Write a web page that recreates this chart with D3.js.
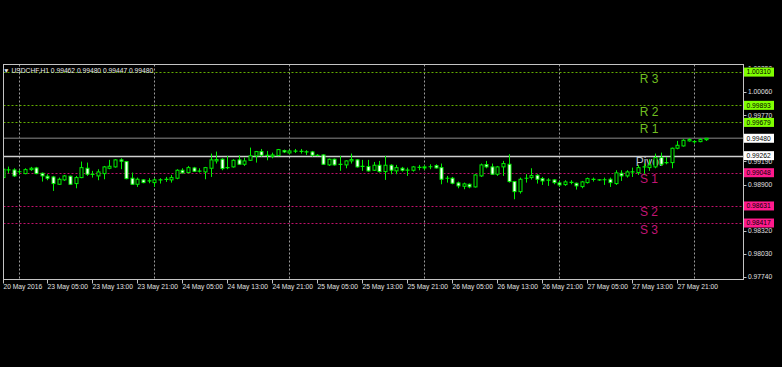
<!DOCTYPE html>
<html><head><meta charset="utf-8">
<script src="https://cdn.jsdelivr.net/npm/d3@7"></script>
<style>html,body{margin:0;padding:0;background:#000;overflow:hidden}</style>
</head><body><svg id="c" width="782" height="367"></svg>
<script>
const symbolTitle = "USDCHF,H1  0.99462 0.99480 0.99447 0.99480";
const openP = [.98987,.99079,.99083,.99058,.99037,.99087,.99108,.99041,.99004,.98995,
.98903,.98958,.99004,.98912,.98987,.99104,.99025,.99008,.99037,.99104,
.99121,.99209,.99188,.98979,.98903,.98958,.98941,.98924,.98954,.98958,
.98958,.98979,.99079,.99050,.99108,.99066,.99058,.99104,.99196,.99217,
.99108,.99121,.99209,.99154,.99204,.99259,.99313,.99263,.99255,.99263,
.99326,.99296,.99317,.99313,.99313,.99309,.99267,.99271,.99146,.99217,
.99154,.99146,.99196,.99209,.99125,.99125,.99079,.99142,.99062,.99142,
.99071,.99104,.99079,.99079,.99112,.99108,.99117,.99137,.99112,.98974,
.98979,.98920,.98878,.98903,.98870,.99008,.99150,.99121,.99029,.99121,
.99154,.98937,.98811,.98974,.98987,.99016,.98974,.98954,.98958,.98920,
.98899,.98924,.98916,.98874,.98924,.98962,.98958,.98958,.98966,.98912,
.99041,.99008,.99054,.99050,.99117,.99112,.99121,.99238,.99179,.99175,
.99355,.99384,.99447,.99438,.99438,.99462];
const highP = [.99121,.99125,.99104,.99087,.99104,.99121,.99121,.99050,.99029,.99008,
.98987,.99020,.99012,.99008,.99188,.99175,.99071,.99092,.99133,.99209,
.99217,.99229,.99196,.99050,.98987,.98966,.98979,.98979,.98979,.98995,
.99020,.99092,.99104,.99133,.99121,.99104,.99121,.99288,.99313,.99229,
.99259,.99217,.99267,.99238,.99363,.99321,.99346,.99321,.99300,.99346,
.99338,.99338,.99346,.99346,.99330,.99321,.99280,.99280,.99225,.99225,
.99259,.99204,.99288,.99217,.99209,.99209,.99183,.99196,.99259,.99154,
.99146,.99121,.99112,.99133,.99146,.99142,.99154,.99154,.99163,.99008,
.98995,.98937,.98924,.98912,.99029,.99163,.99196,.99163,.99133,.99196,
.99280,.98945,.98987,.99029,.99104,.99029,.98995,.98979,.98966,.98945,
.98954,.98954,.98924,.98945,.98987,.98987,.98966,.98987,.98987,.99079,
.99079,.99079,.99112,.99146,.99163,.99217,.99288,.99300,.99246,.99363,
.99447,.99468,.99480,.99455,.99480,.99480];
const lowP = [.98966,.99041,.98995,.99029,.99029,.99071,.99029,.98937,.98954,.98820,
.98895,.98945,.98895,.98853,.98979,.99008,.98987,.98954,.98966,.99092,
.99112,.99092,.98966,.98895,.98870,.98916,.98916,.98870,.98912,.98933,
.98924,.98966,.99037,.99041,.99058,.99050,.98966,.98995,.99163,.99079,
.99092,.99112,.99146,.99133,.99196,.99175,.99250,.99204,.99229,.99255,
.99296,.99280,.99296,.99288,.99271,.99250,.99255,.99146,.99133,.99137,
.99071,.99104,.99163,.99112,.99071,.99062,.99071,.99050,.98958,.99029,
.99029,.99062,.99008,.99062,.99079,.99083,.99092,.99100,.98903,.98924,
.98903,.98853,.98841,.98853,.98862,.98995,.99104,.99020,.99008,.99008,
.98924,.98715,.98786,.98924,.98962,.98912,.98895,.98883,.98903,.98870,
.98883,.98903,.98837,.98853,.98912,.98937,.98945,.98895,.98870,.98895,
.98945,.98987,.98995,.99020,.99029,.99071,.99104,.99133,.99154,.99104,
.99342,.99376,.99438,.99413,.99430,.99447];
const closeP = [.99092,.99087,.99008,.99062,.99087,.99104,.99037,.99008,.98979,.98912,
.98966,.99008,.98903,.98987,.99112,.99029,.99029,.99058,.99121,.99129,
.99209,.99192,.98974,.98903,.98966,.98924,.98949,.98958,.98962,.98970,
.98987,.99079,.99046,.99112,.99066,.99071,.99112,.99209,.99213,.99100,
.99117,.99204,.99154,.99196,.99259,.99313,.99267,.99267,.99271,.99338,
.99309,.99321,.99321,.99317,.99305,.99267,.99263,.99154,.99217,.99146,
.99150,.99196,.99213,.99121,.99129,.99071,.99142,.99062,.99142,.99079,
.99112,.99079,.99083,.99121,.99117,.99121,.99129,.99108,.98966,.98983,
.98916,.98883,.98908,.98870,.99020,.99146,.99121,.99029,.99121,.99163,
.98937,.98811,.98966,.98983,.99012,.98966,.98945,.98958,.98924,.98895,
.98933,.98929,.98883,.98933,.98974,.98966,.98960,.98962,.98924,.99046,
.99008,.99058,.99062,.99112,.99125,.99146,.99238,.99154,.99171,.99355,
.99392,.99455,.99464,.99440,.99464,.99480];
const timeLabels = ["20 May 2016","23 May 05:00","23 May 13:00","23 May 21:00","24 May 05:00","24 May 13:00","24 May 21:00","25 May 05:00","25 May 13:00","25 May 21:00","26 May 05:00","26 May 13:00","26 May 21:00","27 May 05:00","27 May 13:00","27 May 21:00"];
const barsPerLabel = 8;
const dayStartBars = [3, 27, 51, 75, 99, 123];
// visible price-scale labels (0.99480 and 0.98610 are covered by level boxes in the reference)
const priceTicks = [1.00350, 1.00060, 0.99770, 0.99190, 0.98900, 0.98320, 0.98030, 0.97740];
const priceTickMarks = [1.00350, 1.00060, 0.99770, 0.99480, 0.99190, 0.98900, 0.98610, 0.98320, 0.98030, 0.97740];
const levelNames = ["R 3","R 2","R 1","Pivot","S 1","S 2","S 3"];
const levelValues = [1.00310, 0.99893, 0.99679, 0.99262, 0.99048, 0.98631, 0.98417];
const currentPrice = 0.99480;

const W = 782, H = 367;
const L = 3.5, R = 743.5, T = 64.5, B = 279.5;
const svg = d3.select("#c");
svg.append("rect").attr("width", W).attr("height", H).attr("fill", "#000");

const x = d3.scaleLinear().domain([0, 125]).range([2.5, 705.6]);
const y = d3.scaleLinear().domain([0.97715, 1.00399]).range([279, 65]);
const fmt = d3.format(".5f");
const font = "'Liberation Sans', Arial, sans-serif";
const GREEN = "#00f000";

const defs = svg.append("defs");
defs.append("clipPath").attr("id", "plot")
  .append("rect").attr("x", L).attr("y", T).attr("width", R - L).attr("height", B - T);
defs.append("clipPath").attr("id", "topcut")
  .append("rect").attr("x", 744).attr("y", 60).attr("width", 38).attr("height", 7.4);
const plot = svg.append("g").attr("clip-path", "url(#plot)");

// vertical grid
plot.selectAll("line.grid").data(dayStartBars).join("line")
  .attr("x1", d => Math.round(x(d)) + 0.5).attr("x2", d => Math.round(x(d)) + 0.5)
  .attr("y1", T).attr("y2", B)
  .attr("stroke", "#9a9a9a").attr("stroke-dasharray", "2,2");

// level lines
const lvl = levelNames.map((n, i) => ({ name: n, v: levelValues[i], kind: n.startsWith("R") ? "R" : (n.startsWith("S") ? "S" : "P") }));
const lineCol = { R: "#62ad00", S: "#c0106a", P: "#cfcfcf" };
const textCol = { R: "#6fbf20", S: "#c01575", P: "#b8c2cc" };
const boxCol = { R: "#80ff00", S: "#ff1a8c", P: "#ffffff" };

plot.append("line").attr("x1", L).attr("x2", R)
  .attr("y1", y(currentPrice)).attr("y2", y(currentPrice))
  .attr("stroke", "#5c5c5c").attr("stroke-width", 1.5);

plot.selectAll("line.lvl").data(lvl).join("line")
  .attr("x1", L).attr("x2", R)
  .attr("y1", d => Math.round(y(d.v)) + 0.5).attr("y2", d => Math.round(y(d.v)) + 0.5)
  .attr("stroke", d => lineCol[d.kind])
  .attr("stroke-width", d => d.kind === "P" ? 1.5 : 1)
  .attr("stroke-dasharray", d => d.kind === "P" ? null : "2,2");

plot.selectAll("text.lvl").data(lvl).join("text")
  .attr("x", 649).attr("y", d => y(d.v) + 10.5)
  .attr("text-anchor", "middle")
  .attr("font-family", font).attr("font-size", 12)
  .attr("fill", d => textCol[d.kind])
  .text(d => d.name);

// candles
const bars = openP.map((o, i) => ({ i, o, h: highP[i], l: lowP[i], c: closeP[i] }));
const cg = plot.append("g");
bars.forEach(d => {
  const cx = Math.round(x(d.i)) + 0.5;
  cg.append("line").attr("x1", cx).attr("x2", cx).attr("y1", y(d.h)).attr("y2", y(d.l))
    .attr("stroke", GREEN).attr("stroke-width", 1);
  const yt = y(Math.max(d.o, d.c)), yb = y(Math.min(d.o, d.c));
  if (yb - yt < 1) {
    cg.append("line").attr("x1", cx - 2).attr("x2", cx + 2).attr("y1", (yt + yb) / 2).attr("y2", (yt + yb) / 2)
      .attr("stroke", GREEN).attr("stroke-width", 1.2);
  } else {
    cg.append("rect").attr("x", cx - 1.5).attr("width", 3).attr("y", yt).attr("height", yb - yt)
      .attr("fill", d.c > d.o ? "#000" : "#fff").attr("stroke", GREEN).attr("stroke-width", 1);
  }
});

// frame
svg.append("rect").attr("x", L).attr("y", T).attr("width", R - L).attr("height", B - T)
  .attr("fill", "none").attr("stroke", "#c4c4c4").attr("stroke-width", 1);

// title
svg.append("text").attr("x", 3).attr("y", 72.5).attr("font-family", font).attr("font-size", 6.7)
  .attr("fill", "#e8e8e8").text("\u25BC " + symbolTitle);

// price axis ticks
const pa = svg.append("g");
pa.selectAll("line").data(priceTickMarks).join("line")
  .attr("x1", R).attr("x2", R + 3).attr("y1", d => Math.round(y(d)) + 0.5).attr("y2", d => Math.round(y(d)) + 0.5)
  .attr("stroke", "#c4c4c4");
pa.selectAll("text").data(priceTicks).join("text")
  .attr("x", 748).attr("y", d => y(d) + 2.4)
  .attr("clip-path", d => d > 1.002 ? "url(#topcut)" : null)
  .attr("font-family", font).attr("font-size", 6.7).attr("fill", "#e0e0e0")
  .text(d => fmt(d));

// level boxes
const boxes = lvl.map(d => ({ v: d.v, col: boxCol[d.kind] })).concat([{ v: currentPrice, col: "#ffffff" }]);
const bg = svg.append("g");
boxes.forEach(d => {
  const yy = y(d.v);
  bg.append("rect").attr("x", 744).attr("y", yy - 4.5).attr("width", 30).attr("height", 9).attr("fill", d.col);
  bg.append("text").attr("x", 746.5).attr("y", yy + 2.4).attr("font-family", font).attr("font-size", 6.7)
    .attr("fill", "#000").text(fmt(d.v));
});

// time axis
const ta = svg.append("g");
timeLabels.forEach((t, k) => {
  const xx = Math.round(x(k * barsPerLabel)) + 0.5;
  ta.append("line").attr("x1", xx).attr("x2", xx).attr("y1", B).attr("y2", B + 4).attr("stroke", "#c4c4c4");
  ta.append("text").attr("x", xx).attr("y", 289).attr("font-family", font).attr("font-size", 6.7)
    .attr("fill", "#e0e0e0").text(t);
});
</script></body></html>
